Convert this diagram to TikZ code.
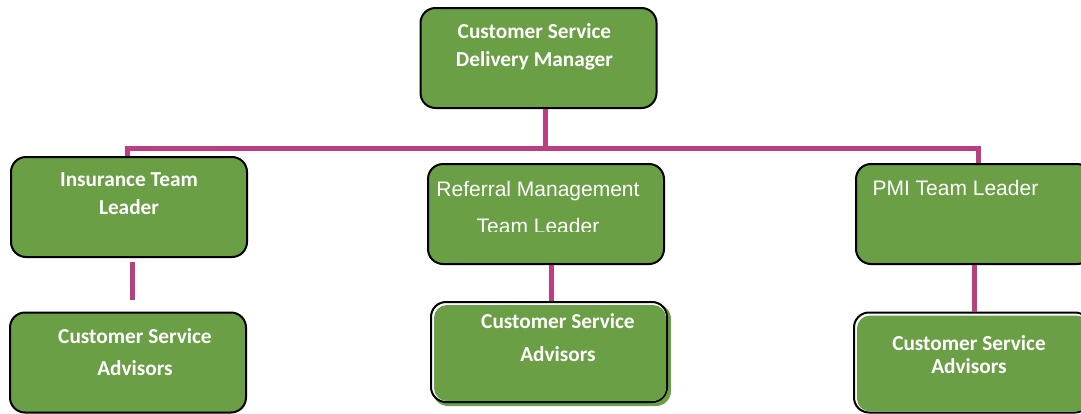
\documentclass[tikz,border=0pt]{standalone}
\usepackage{fontspec}
\setmainfont{Carlito}
\newfontfamily\arialfont{Liberation Sans}
\usepackage{tikz}
\usetikzlibrary{positioning, calc}
\usepackage{xcolor}
\definecolor{boxgreen}{HTML}{6A9F45}
\definecolor{linkpink}{HTML}{BB3E80}
\tikzstyle{rolebox} = [draw=black, line width=2pt, fill=boxgreen, rounded corners=15pt, minimum width=236pt, minimum height=100pt]
\tikzstyle{innerfill} = [fill=boxgreen, rounded corners=13pt]
\tikzstyle{shadowbox} = [fill=boxgreen, rounded corners=15pt]
\tikzstyle{link} = [draw=linkpink, line width=5pt]
\tikzstyle{boldtext} = [text=white, font=\bfseries\fontsize{21.3}{28}\selectfont, align=center]
\tikzstyle{plaintext} = [text=white, font=\arialfont\fontsize{21}{37}\selectfont, align=center]

\begin{document}
\begin{tikzpicture}[x=1pt, y=-1pt]
    \useasboundingbox (0,0) rectangle (1081,413);

    % Bus coordinates
    \coordinate (busL) at (127,148);
    \coordinate (busM) at (545,148);
    \coordinate (busR) at (978,148);
    \coordinate (insEnd) at (132,300);

    % Manager
    \node[rolebox] (mgr) at (538.5,58) {};
    \node[boldtext] (mgrText) at (534.5,47) {Customer Service\\Delivery Manager};

    % Team leaders
    \node[rolebox] (ins) at (129,207) {};
    \node[boldtext] (insText) at (129,194) {Insurance Team\\Leader};

    \node[rolebox] (ref) at (546,214) {};
    \begin{scope}
        \clip (420,150) rectangle (670,231);
        \node[plaintext, anchor=north] (refText) at (538,178) {Referral Management\\Team Leader};
    \end{scope}

    \node[rolebox] (pmi) at (974,214) {};
    \node[plaintext, anchor=west] (pmiText) at (869,188) {PMI Team Leader};

    % Advisors
    \node[rolebox] (advL) at (128,362.5) {};
    \node[boldtext, font=\bfseries\fontsize{21.3}{32}\selectfont] (advLText) at (135,352) {Customer Service\\Advisors};

    \fill[shadowbox] (433,304) rectangle (671,406);
    \node[rolebox, fill=white] (advM) at (549,352) {};
    \fill[innerfill] ([shift={(4pt,-4pt)}]advM.north west) rectangle ([shift={(-2pt,2pt)}]advM.south east);
    \node[boldtext, font=\bfseries\fontsize{21.3}{33}\selectfont] (advMText) at (558,337.5) {Customer Service\\Advisors};

    \node[rolebox, fill=white] (advR) at (972,362.5) {};
    \fill[innerfill] ([shift={(4pt,-4pt)}]advR.north west) rectangle ([shift={(-2pt,2pt)}]advR.south east);
    \node[boldtext, font=\bfseries\fontsize{21.3}{23}\selectfont] (advRText) at (969,354.5) {Customer Service\\Advisors};

    % Connectors
    \draw[link] (mgr.south -| busM) -- (busM);
    \draw[link] (ins.north -| busL) -- (busL) -- (busR) -- (pmi.north -| busR);
    \draw[link] ([yshift=-4pt]ins.south -| insEnd) -- (insEnd);
    \draw[link] ([xshift=5pt]ref.south) -- ([xshift=5pt]ref.south |- advM.north);
    \draw[link] (pmi.south) -- (pmi.south |- advR.north);

\end{tikzpicture}
\end{document}
